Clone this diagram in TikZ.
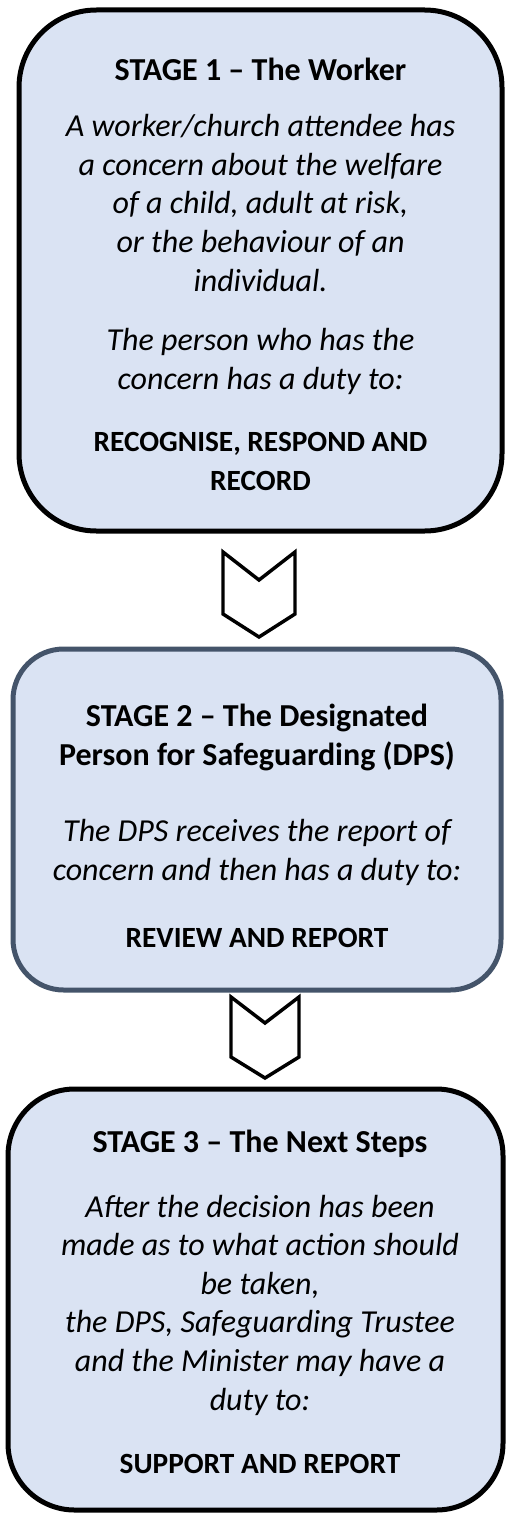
\documentclass[tikz,border=0pt]{standalone}
\usepackage{fontspec}
\setmainfont{Carlito}

\definecolor{boxfill}{RGB}{218,227,243}
\definecolor{slateline}{RGB}{68,84,106}

\tikzset{every picture/.style={line width=0.75pt}}
\tikzset{
  stagebox/.style={fill=boxfill, line width=3.75pt},
  chevron/.style={draw=black, fill=white, line width=2.6pt, line join=miter},
  title/.style={anchor=base, inner sep=0pt, align=center, font=\fontsize{24}{28.9}\selectfont\bfseries},
  body/.style={anchor=base, inner sep=0pt, align=center, font=\fontsize{24}{28.9}\selectfont\itshape},
  duty/.style={anchor=base, inner sep=0pt, align=center, font=\fontsize{22}{28.9}\selectfont\bfseries}
}

\begin{document}
\begin{tikzpicture}[x=0.75pt,y=0.75pt,yscale=-1,xscale=1]
\useasboundingbox (0,0) rectangle (507,1513);

%Shape: Rounded Rect [id:stage1]
\draw [stagebox, draw=black, rounded corners=58pt] (19,10) rectangle (502,531) ;
%Shape: Rounded Rect [id:stage2]
\draw [stagebox, draw=slateline, rounded corners=38pt] (13,649) rectangle (501,990) ;
%Shape: Rounded Rect [id:stage3]
\draw [stagebox, draw=black, rounded corners=50pt] (8,1089) rectangle (503,1510) ;

%Shape: Chevron [id:arrow1]
\draw [chevron] (223,552) -- (259,580) -- (295,552) -- (295,614) -- (259,637) -- (223,614) -- cycle ;
%Shape: Chevron [id:arrow2]
\draw [chevron] (231,997) -- (265,1023) -- (299,997) -- (299,1057) -- (265,1078) -- (231,1057) -- cycle ;

% Text Node (anchored at the base of the last line)
\node (s1title) [title] at (260.5,80) {STAGE 1 -- The Worker};
% Text Node
\node (s1text) [body] at (260.5,291) {A worker/church attendee has\\a concern about the welfare\\of a child, adult at risk,\\or the behaviour of an\\individual.};
% Text Node
\node (s1more) [body] at (260.5,389.5) {The person who has the\\concern has a duty to:};
% Text Node
\node (s1duty) [duty] at (260.5,490.5) {RECOGNISE, RESPOND AND\\RECORD};

% Text Node
\node (s2title) [title] at (257,765) {STAGE 2 -- The Designated\\Person for Safeguarding (DPS)};
% Text Node
\node (s2text) [body] at (257,880) {The DPS receives the report of\\concern and then has a duty to:};
% Text Node
\node (s2duty) [duty] at (257,947) {REVIEW AND REPORT};

% Text Node
\node (s3title) [title] at (260,1152) {STAGE 3 -- The Next Steps};
% Text Node
\node (s3text) [body] at (260,1410) {After the decision has been\\made as to what action should\\be taken,\\the DPS, Safeguarding Trustee\\and the Minister may have a\\duty to:};
% Text Node
\node (s3duty) [duty] at (260,1473) {SUPPORT AND REPORT};

\end{tikzpicture}
\end{document}
